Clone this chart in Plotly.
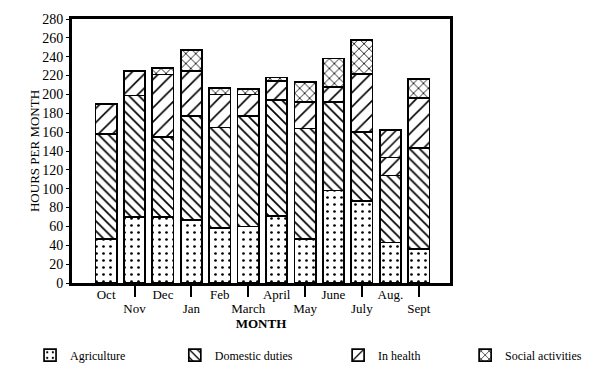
import plotly.graph_objects as go

months = ["Oct", "Nov", "Dec", "Jan", "Feb", "March", "April", "May", "June", "July", "Aug.", "Sept"]
agriculture = [47, 70, 70, 67, 58, 60, 71, 47, 98, 87, 43, 36]
domestic = [111, 129, 85, 110, 107, 117, 123, 117, 94, 73, 71, 107]
in_health = [32, 26, 66, 48, 35, 23, 20, 28, 16, 62, 19, 53]
social = [0, 0, 7, 22, 7, 6, 4, 21, 30, 36, 29, 20]
social_shapes = ["x"] * 10 + ["/"] + ["x"]
y_ticks = list(range(0, 281, 20))

xpos = list(range(len(months)))
even_idx = xpos[0::2]
odd_idx = xpos[1::2]

FONT = "Liberation Serif"

def pat(shape, size, solidity):
    return dict(shape=shape, size=size, solidity=solidity, fgcolor="black", bgcolor="white", fillmode="replace")

series = [
    ("Agriculture", agriculture, pat(".", 7, 0.12), "legend"),
    ("Domestic duties", domestic, pat("\\", 7, 0.24), "legend2"),
    ("In health", in_health, pat("/", 10, 0.16), "legend3"),
    ("Social activities", social, pat(social_shapes, 7, 0.22), "legend4"),
]
legend_x = [-0.111, 0.272, 0.704, 1.040]

fig = go.Figure()
for name, vals, p, lg in series:
    fig.add_trace(go.Bar(
        x=xpos, y=vals, name=name, width=0.75, legend=lg,
        marker=dict(color="white", line=dict(color="black", width=1.7), pattern=p),
    ))

legend_common = dict(orientation="h", xanchor="left", y=-0.273, yanchor="middle",
                     font=dict(family=FONT, size=12), bgcolor="rgba(0,0,0,0)")

fig.update_layout(
    barmode="stack",
    width=592, height=373,
    margin=dict(l=64, r=150, t=11, b=98),
    paper_bgcolor="white", plot_bgcolor="white",
    font=dict(family=FONT, color="black", size=13),
    showlegend=True,
    legend=dict(x=legend_x[0], **legend_common),
    legend2=dict(x=legend_x[1], **legend_common),
    legend3=dict(x=legend_x[2], **legend_common),
    legend4=dict(x=legend_x[3], **legend_common),
    xaxis=dict(range=[-1.2, 12.1], tickvals=even_idx, ticktext=[months[i] for i in even_idx],
               ticks="", showline=True, linewidth=3, linecolor="black", mirror=True,
               showgrid=False, zeroline=False, tickfont=dict(family=FONT, size=13),
               ticklabelstandoff=-3, automargin=False),
    xaxis2=dict(range=[-1.2, 12.1], overlaying="x", anchor="y", side="bottom",
                tickvals=odd_idx, ticktext=[months[i] for i in odd_idx],
                ticks="outside", ticklen=13, tickwidth=1.5, tickcolor="black",
                showline=False, showgrid=False, zeroline=False,
                tickfont=dict(family=FONT, size=13), automargin=False,
                title=dict(text="<b>MONTH</b>", font=dict(family=FONT, size=13), standoff=0)),
    yaxis=dict(range=[0, 280], tickvals=y_ticks, ticks="outside", ticklen=3, tickcolor="black",
               showline=True, linewidth=3, linecolor="black", mirror=True, automargin=False,
               showgrid=False, zeroline=False, tickfont=dict(family=FONT, size=14),
               title=dict(text="HOURS PER MONTH", font=dict(family=FONT, size=13), standoff=0)),
)
fig.add_trace(go.Scatter(x=[None], y=[None], xaxis="x2", showlegend=False, hoverinfo="skip"))

fig.write_html("out.html")
